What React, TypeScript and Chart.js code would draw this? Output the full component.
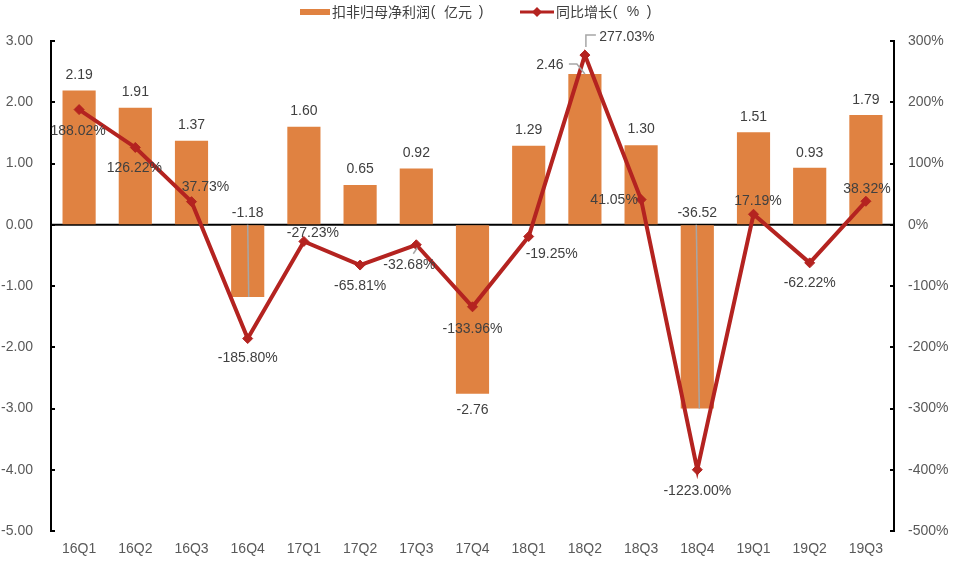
import React, { useEffect, useRef } from "react";
import { Chart, registerables } from "chart.js";

Chart.register(...registerables);

// ---- data ----
const categories = ["16Q1", "16Q2", "16Q3", "16Q4", "17Q1", "17Q2", "17Q3", "17Q4", "18Q1", "18Q2", "18Q3", "18Q4", "19Q1", "19Q2", "19Q3"];
// values as labelled
const netProfit = [2.19, 1.91, 1.37, -1.18, 1.6, 0.65, 0.92, -2.76, 1.29, 2.46, 1.3, -36.52, 1.51, 0.93, 1.79];
// values as drawn (the original chart truncates 18Q4)
const netProfitDrawn = [2.19, 1.91, 1.37, -1.18, 1.6, 0.65, 0.92, -2.76, 1.29, 2.46, 1.3, -3.0, 1.51, 0.93, 1.79];
const growth = [188.02, 126.22, 37.73, -185.8, -27.23, -65.81, -32.68, -133.96, -19.25, 277.03, 41.05, -1223.0, 17.19, -62.22, 38.32];
const growthDrawn = [188.02, 126.22, 37.73, -185.8, -27.23, -65.81, -32.68, -133.96, -19.25, 277.03, 41.05, -400.0, 17.19, -62.22, 38.32];
const leftAxis = { min: -5, max: 3, step: 1 };
const rightAxis = { min: -500, max: 300, step: 100 };
const seriesNames = ["扣非归母净利润（亿元）", "同比增长（%）"];

// ---- label layout (style) ----
// bar labels: anchor "end" = bar end, "base" = zero line; [dx, dy]
const barLabelPos: [string, number, number][] = [
  ["end", 0, -15.5], ["end", 0, -15.5], ["end", 0, -15.5], ["base", 0, -12], ["end", 0, -15.5],
  ["end", 0, -15.5], ["end", 0, -15.5], ["end", 0, 16], ["end", 0, -15.5], ["end", -35, -9],
  ["end", 0, -15.5], ["base", 0, -11.5], ["end", 0, -15.5], ["end", 0, -15], ["end", 0, -15],
];
const lineLabelPos: [number, number][] = [
  [-1, 22], [-1, 21], [14, -14], [0, 20], [9, -8], [0, 21], [-7, 20], [0, 22],
  [23, 18], [42, -18], [-27, 1], [0, 21], [4.5, -13], [0, 20], [1, -12],
];

const BAR_COLOR = "#E08241";
const LINE_COLOR = "#B42320";
const TEXT_COLOR = "#404040";
const AXIS_TEXT = "#595959";
const LEADER = "#A6A6A6";
const FONT = "'Liberation Sans', Arial, sans-serif";
const CJK = "'Noto Sans CJK SC', 'Liberation Sans', sans-serif";

const customPlugin = {
  id: "customDraw",
  beforeDatasetsDraw(chart: any) {
    const { ctx, chartArea, scales } = chart;
    const y = scales.y;
    const y1 = scales.y1;
    const y0 = y.getPixelForValue(0);
    ctx.save();
    ctx.strokeStyle = "#000";
    ctx.lineWidth = 2;
    ctx.beginPath();
    ctx.moveTo(chartArea.left, y0);
    ctx.lineTo(chartArea.right, y0);
    ctx.stroke();
    // inside tick marks
    y.ticks.forEach((t: any) => {
      const py = Math.round(y.getPixelForValue(t.value));
      ctx.beginPath();
      ctx.moveTo(chartArea.left, py);
      ctx.lineTo(chartArea.left + 4, py);
      ctx.stroke();
    });
    y1.ticks.forEach((t: any) => {
      const py = Math.round(y1.getPixelForValue(t.value));
      ctx.beginPath();
      ctx.moveTo(chartArea.right - 4, py);
      ctx.lineTo(chartArea.right, py);
      ctx.stroke();
    });
    ctx.restore();
  },
  afterDatasetsDraw(chart: any) {
    const { ctx, scales } = chart;
    const x = scales.x;
    const y = scales.y;
    const y1 = scales.y1;
    const y0 = y.getPixelForValue(0);
    ctx.save();

    // leader lines
    ctx.strokeStyle = LEADER;
    ctx.lineWidth = 1.5;
    const seg = (pts: number[][]) => {
      ctx.beginPath();
      ctx.moveTo(pts[0][0], pts[0][1]);
      for (let k = 1; k < pts.length; k++) ctx.lineTo(pts[k][0], pts[k][1]);
      ctx.stroke();
    };
    {
      const px = x.getPixelForValue(3);
      seg([[px, y0], [px + 1, y.getPixelForValue(netProfitDrawn[3])]]);
    }
    {
      const px = x.getPixelForValue(11);
      seg([[px - 1, y0], [px + 2, y.getPixelForValue(netProfitDrawn[11])]]);
    }
    {
      const px = x.getPixelForValue(9);
      const py = y.getPixelForValue(netProfitDrawn[9]);
      seg([[px - 16, py - 10], [px - 8, py - 10], [px, py]]);
    }
    {
      const px = x.getPixelForValue(9);
      const py = y1.getPixelForValue(growthDrawn[9]);
      seg([[px + 11, py - 20], [px + 1, py - 20], [px + 1, py - 8]]);
    }
    {
      const px = x.getPixelForValue(6);
      const py = y1.getPixelForValue(growthDrawn[6]);
      seg([[px - 3, py + 9], [px + 1, py + 3]]);
    }

    // labels
    ctx.fillStyle = TEXT_COLOR;
    ctx.font = `14px ${FONT}`;
    ctx.textAlign = "center";
    ctx.textBaseline = "middle";
    netProfit.forEach((v, i) => {
      const [anchor, dx, dy] = barLabelPos[i];
      const px = x.getPixelForValue(i);
      const py = anchor === "base" ? y0 : y.getPixelForValue(netProfitDrawn[i]);
      ctx.fillText(v.toFixed(2), px + dx, py + dy);
    });
    growth.forEach((v, i) => {
      const [dx, dy] = lineLabelPos[i];
      const px = x.getPixelForValue(i);
      const py = y1.getPixelForValue(growthDrawn[i]);
      ctx.fillText(v.toFixed(2) + "%", px + dx, py + dy);
    });

    // legend (full-width character cells, western-style parentheses)
    const drawCells = (text: string, x0: number, yMid: number) => {
      ctx.textAlign = "center";
      Array.from(text).forEach((ch, k) => {
        const cx = x0 + k * 14;
        if (ch === "（") {
          ctx.font = `14px ${FONT}`;
          ctx.fillText("(", cx + 3, yMid);
        } else if (ch === "）") {
          ctx.font = `14px ${FONT}`;
          ctx.fillText(")", cx + 9, yMid);
        } else if (ch === "%") {
          ctx.font = `14px ${FONT}`;
          ctx.fillText("%", cx + 7, yMid);
        } else {
          ctx.font = `14px ${CJK}`;
          ctx.fillText(ch, cx + 7, yMid);
        }
      });
    };
    ctx.fillStyle = BAR_COLOR;
    ctx.fillRect(300, 9, 30, 6);
    ctx.fillStyle = TEXT_COLOR;
    drawCells(seriesNames[0], 332, 12);
    ctx.strokeStyle = LINE_COLOR;
    ctx.lineWidth = 3;
    ctx.beginPath();
    ctx.moveTo(520, 12);
    ctx.lineTo(554, 12);
    ctx.stroke();
    ctx.fillStyle = LINE_COLOR;
    ctx.beginPath();
    ctx.moveTo(537, 7);
    ctx.lineTo(542, 12);
    ctx.lineTo(537, 17);
    ctx.lineTo(532, 12);
    ctx.closePath();
    ctx.fill();
    ctx.fillStyle = TEXT_COLOR;
    drawCells(seriesNames[1], 556, 12);
    ctx.restore();
  },
};

export default function App() {
  const ref = useRef<HTMLCanvasElement>(null);
  useEffect(() => {
    if (!ref.current) return;
    const chart = new Chart(ref.current, {
      type: "bar",
      data: {
        labels: categories,
        datasets: [
          {
            type: "line",
            label: seriesNames[1],
            data: growthDrawn,
            yAxisID: "y1",
            borderColor: LINE_COLOR,
            backgroundColor: LINE_COLOR,
            borderWidth: 4,
            tension: 0,
            pointStyle: "rectRot",
            pointRadius: 5,
            pointBackgroundColor: LINE_COLOR,
            pointBorderColor: LINE_COLOR,
            pointBorderWidth: 1,
            order: 1,
          } as any,
          {
            type: "bar",
            label: seriesNames[0],
            data: netProfitDrawn,
            yAxisID: "y",
            backgroundColor: BAR_COLOR,
            barPercentage: 0.59,
            categoryPercentage: 1,
            order: 2,
          },
        ],
      },
      options: {
        responsive: false,
        devicePixelRatio: 1,
        animation: false,
        events: [],
        layout: { padding: { top: 41, left: 0, right: 0, bottom: 0 } },
        plugins: { legend: { display: false }, tooltip: { enabled: false } },
        scales: {
          x: {
            grid: { display: false, drawTicks: false },
            border: { display: false },
            ticks: { color: AXIS_TEXT, font: { family: FONT, size: 14 }, padding: 10, maxRotation: 0, autoSkip: false },
            afterFit: (s: any) => { s.height = 31; },
          },
          y: {
            position: "left",
            min: leftAxis.min,
            max: leftAxis.max,
            grid: { display: true, drawOnChartArea: false, drawTicks: false },
            border: { display: true, color: "#000", width: 2 },
            ticks: {
              stepSize: leftAxis.step,
              color: AXIS_TEXT,
              font: { family: FONT, size: 14 },
              padding: 18,
              callback: (v: any) => Number(v).toFixed(2),
            },
            afterFit: (s: any) => { s.width = 51; },
          },
          y1: {
            position: "right",
            min: rightAxis.min,
            max: rightAxis.max,
            grid: { display: true, drawOnChartArea: false, drawTicks: false },
            border: { display: true, color: "#000", width: 2 },
            ticks: {
              stepSize: rightAxis.step,
              color: AXIS_TEXT,
              font: { family: FONT, size: 14 },
              padding: 14,
              callback: (v: any) => `${v}%`,
            },
            afterFit: (s: any) => { s.width = 66; },
          },
        },
      },
      plugins: [customPlugin],
    });
    return () => chart.destroy();
  }, []);
  return (
    <div style={{ position: "absolute", left: 0, top: 0, width: 960, height: 562, background: "#fff" }}>
      <canvas ref={ref} width={960} height={562} style={{ display: "block" }} />
    </div>
  );
}
